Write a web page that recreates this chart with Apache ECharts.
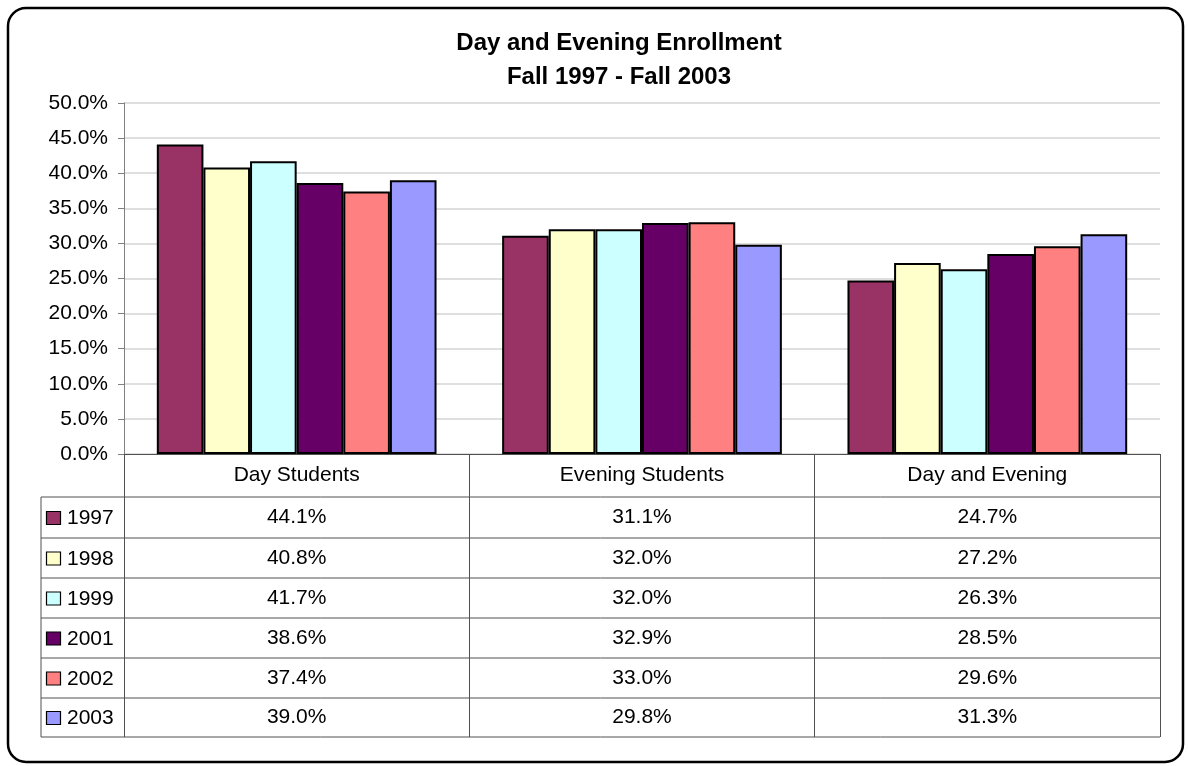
<!DOCTYPE html>
<html>
<head>
<meta charset="utf-8">
<title>Day and Evening Enrollment</title>
<script src="https://cdn.jsdelivr.net/npm/echarts@6/dist/echarts.min.js"></script>
<style>
  html, body { margin: 0; padding: 0; background: #fff; }
  #chart { width: 1188px; height: 766px; }
</style>
</head>
<body>
<div id="chart"></div>
<script>
// data
const categories = ['Day Students', 'Evening Students', 'Day and Evening']
const years = ['1997', '1998', '1999', '2001', '2002', '2003']
const v1997 = [44.1, 31.1, 24.7]
const v1998 = [40.8, 32.0, 27.2]
const v1999 = [41.7, 32.0, 26.3]
const v2001 = [38.6, 32.9, 28.5]
const v2002 = [37.4, 33.0, 29.6]
const v2003 = [39.0, 29.8, 31.3]
const values = [v1997, v1998, v1999, v2001, v2002, v2003]
const colors = ['#993366', '#FFFFCC', '#CCFFFF', '#660066', '#FF8080', '#9999FF']

const FONT = '"Liberation Sans", Arial, sans-serif'
const fmt = v => v.toFixed(1) + '%'

// layout
const gridLeft = 124, gridRight = 1160, gridTop = 103, gridBottom = 454
const tableLeft = 41
const rowLines = [497, 538, 578, 618, 658, 698, 737]
const lineColor = '#505050'

const myChart = echarts.init(document.getElementById('chart'))

let series = []
years.forEach((y, i) => {
  series.push({
    name: y,
    type: 'bar',
    data: values[i],
    barGap: '0%',
    barCategoryGap: '19%',
    itemStyle: { color: colors[i], borderColor: '#000', borderWidth: 2 }
  })
})

const option = {
  animation: false,
  backgroundColor: '#fff',
  title: {
    text: 'Day and Evening Enrollment\nFall 1997 - Fall 2003',
    left: 614,
    top: 21,
    textAlign: 'center',
    textStyle: { fontFamily: FONT, fontSize: 24, fontWeight: 'bold', color: '#000', lineHeight: 34 }
  },
  grid: { left: gridLeft, right: 1188 - gridRight, top: gridTop, bottom: 766 - gridBottom },
  xAxis: {
    type: 'category',
    data: categories,
    axisLine: { lineStyle: { color: lineColor, width: 1 } },
    axisTick: { show: true, length: rowLines[rowLines.length - 1] - gridBottom, lineStyle: { color: lineColor } },
    axisLabel: { fontFamily: FONT, fontSize: 21, color: '#000', margin: 21, verticalAlign: 'middle' }
  },
  yAxis: {
    type: 'value',
    min: 0,
    max: 50,
    interval: 5,
    axisLine: { show: true, lineStyle: { color: '#808080' } },
    axisTick: { show: true, length: 6, lineStyle: { color: '#808080' } },
    axisLabel: { fontFamily: FONT, fontSize: 21, color: '#000', margin: 16, formatter: v => fmt(v) },
    splitLine: { lineStyle: { color: '#d4d4d4', width: 1.5 } }
  },
  series
}
myChart.setOption(option)

// data table under the axis, laid out with the axis' own positions
const graphic = []
graphic.push({
  type: 'rect',
  shape: { x: 8, y: 8, width: 1175, height: 754, r: 18 },
  style: { fill: null, stroke: '#000', lineWidth: 2.5 },
  z: 100
})
rowLines.forEach(y => {
  graphic.push({ type: 'line', shape: { x1: tableLeft, y1: y, x2: gridRight, y2: y }, style: { stroke: lineColor, lineWidth: 1 } })
})
graphic.push({ type: 'line', shape: { x1: tableLeft, y1: rowLines[0], x2: tableLeft, y2: rowLines[rowLines.length - 1] }, style: { stroke: lineColor, lineWidth: 1 } })

years.forEach((y, i) => {
  const cy = (rowLines[i] + rowLines[i + 1]) / 2
  graphic.push({
    type: 'rect',
    shape: { x: 46.5, y: cy - 6, width: 14, height: 13 },
    style: { fill: colors[i], stroke: '#000', lineWidth: 1.2 }
  })
  graphic.push({
    type: 'text',
    style: { text: y, x: 67, y: cy + 1, fill: '#000', font: '21px ' + FONT, textAlign: 'left', textVerticalAlign: 'middle' }
  })
  categories.forEach((c, j) => {
    const cx = myChart.convertToPixel({ xAxisIndex: 0 }, c)
    graphic.push({
      type: 'text',
      style: { text: fmt(values[i][j]), x: cx, y: cy, fill: '#000', font: '21px ' + FONT, textAlign: 'center', textVerticalAlign: 'middle' }
    })
  })
})
myChart.setOption({ graphic })
</script>
</body>
</html>
